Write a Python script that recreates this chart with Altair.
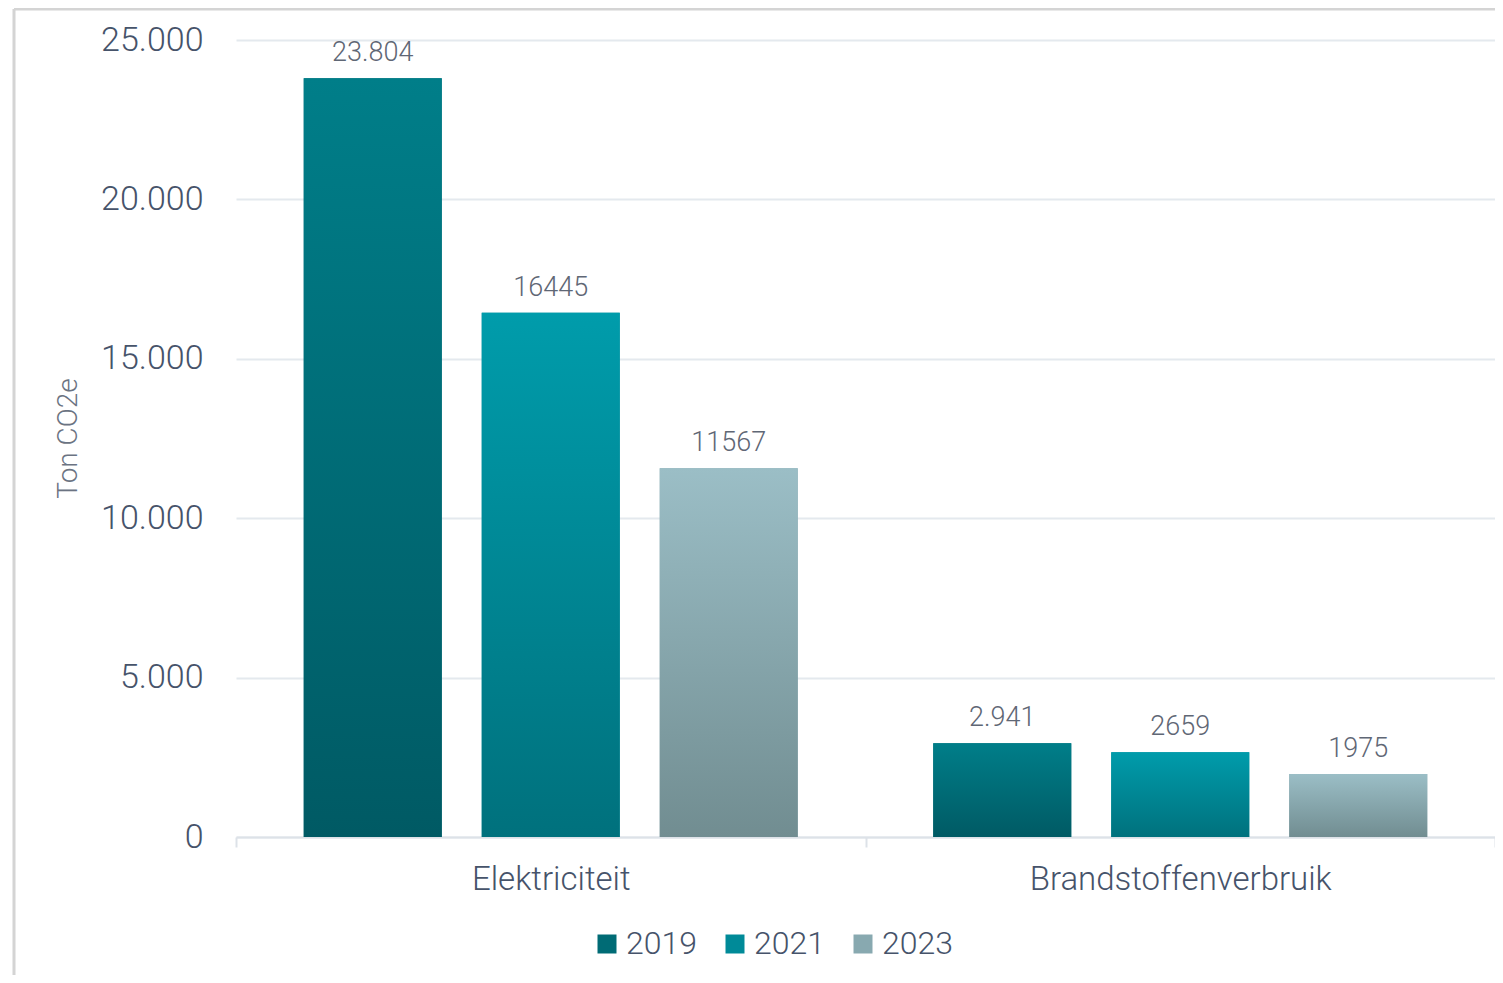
import altair as alt
import pandas as pd

categories = ["Elektriciteit", "Brandstoffenverbruik"]
years = ["2019", "2021", "2023"]
values_elek = [23804, 16445, 11567]
values_brand = [2941, 2659, 1975]
labels_elek = ["23.804", "16445", "11567"]
labels_brand = ["2.941", "2659", "1975"]
y_ticks = [0, 5000, 10000, 15000, 20000, 25000]

solid_colors = ["#006b75", "#008a98", "#88a9b0"]
grad_top = ["#007e89", "#009cab", "#9bbec6"]
grad_bottom = ["#005a64", "#00717d", "#718d91"]

rows = []
for cat, vals, labs in [(categories[0], values_elek, labels_elek), (categories[1], values_brand, labels_brand)]:
    for yr, v, lb in zip(years, vals, labs):
        rows.append({"category": cat, "year": yr, "value": v, "label": lb})
df = pd.DataFrame(rows)

FONT = "Roboto"
W, H = 1259, 797

x_enc = alt.X("category:N", sort=categories,
              scale=alt.Scale(paddingInner=0, paddingOuter=0),
              axis=alt.Axis(title=None, domainColor="#dde2e8", domainWidth=2,
                            tickColor="#dde2e8", tickWidth=2, tickSize=10, tickBand="extent",
                            labelAngle=0, labelLimit=0,
                            labelFontSize=33, labelFont=FONT, labelFontWeight=300,
                            labelColor="#46536a", labelPadding=16, grid=False))
xo_enc = alt.XOffset("year:N", sort=years,
                     scale=alt.Scale(paddingInner=0.2247, paddingOuter=0.3806))
y_enc = alt.Y("value:Q", scale=alt.Scale(domain=[0, 25000], nice=False),
              axis=alt.Axis(values=y_ticks, title="Ton CO2e", domain=False, ticks=False,
                            labelExpr="replace(format(datum.value, ','), ',', '.')",
                            labelFontSize=34, labelFont=FONT, labelFontWeight=300,
                            labelColor="#46536a", labelPadding=33,
                            gridColor="#e4e9ee", gridWidth=2,
                            titleFontSize=28, titleFont=FONT, titleFontWeight=300,
                            titleColor="#6b7382", titleX=-168, titleY=398,
                            titleBaseline="middle"))

base = alt.Chart(df)

legend_bars = base.mark_bar().encode(
    x=x_enc, xOffset=xo_enc, y=y_enc,
    color=alt.Color("year:N", sort=years,
                    scale=alt.Scale(domain=years, range=solid_colors),
                    legend=alt.Legend(title=None, orient="none", legendX=355, legendY=888,
                                      direction="horizontal", symbolType="square",
                                      symbolSize=361, symbolStrokeWidth=0,
                                      labelFontSize=32, labelFont=FONT, labelFontWeight=300,
                                      labelColor="#46536a", columnPadding=22, labelOffset=3)),
)

layers = [legend_bars]
for yr, top, bot in zip(years, grad_top, grad_bottom):
    grad = alt.LinearGradient(gradient="linear",
                              stops=[alt.GradientStop(color=top, offset=0),
                                     alt.GradientStop(color=bot, offset=1)],
                              x1=0, x2=0, y1=0, y2=1)
    layers.append(
        base.transform_filter(alt.datum.year == yr)
        .mark_bar(color=grad)
        .encode(x=x_enc, xOffset=xo_enc, y=y_enc)
    )

text = base.mark_text(baseline="alphabetic", dy=-17, fontSize=27, font=FONT,
                      fontWeight=300, color="#5f6775").encode(
    x=x_enc, xOffset=xo_enc, y=y_enc, text="label:N")
layers.append(text)

one = alt.Chart(pd.DataFrame({"a": [0]}))
border_left = one.mark_rule(color="#d4d4d4", strokeWidth=3).encode(
    x=alt.value(-222), y=alt.value(-31), y2=alt.value(935))
border_top = one.mark_rule(color="#d4d4d4", strokeWidth=3).encode(
    x=alt.value(-222), x2=alt.value(1259), y=alt.value(-31))
layers += [border_left, border_top]

chart = alt.layer(*layers).properties(
    width=W, height=H,
    autosize=alt.AutoSizeParams(type="none"),
    padding={"left": 228, "top": 32, "right": 0, "bottom": 138},
).configure_view(stroke=None)

chart.save("out.html", embed_options={"renderer": "svg", "actions": False})
